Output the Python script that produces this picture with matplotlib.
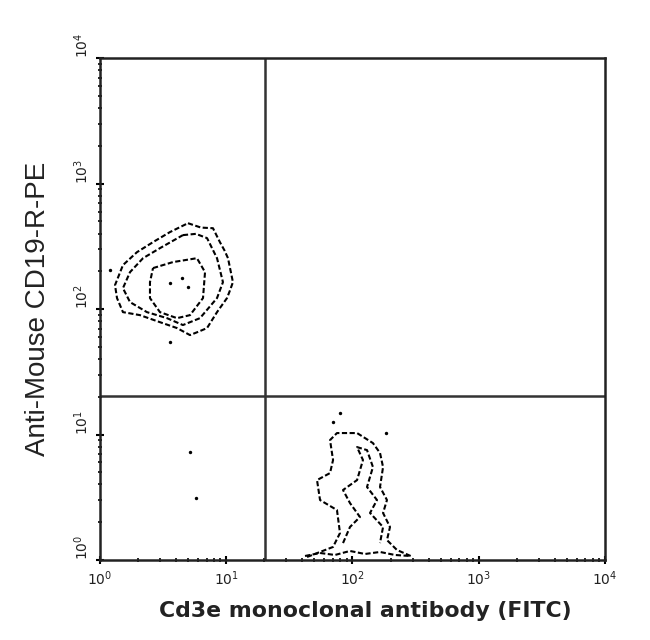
import numpy as np
import matplotlib.pyplot as plt
from matplotlib.ticker import LogLocator, FixedLocator

# axis setup (log decades)
decades = [0, 1, 2, 3, 4]
tick_labels = ["$10^{0}$", "$10^{1}$", "$10^{2}$", "$10^{3}$", "$10^{4}$"]
gate_x = 20.3
gate_y = 20.3

# contours, stored as log10 values
b_outer_x = [0.697, 0.800, 0.895, 0.950, 0.985, 1.014, 1.053, 1.030, 1.006, 0.927, 0.848, 0.780,
             0.713, 0.610, 0.475, 0.317, 0.182, 0.135, 0.119, 0.182, 0.293, 0.420, 0.554, 0.697]
b_outer_y = [2.685, 2.650, 2.645, 2.534, 2.470, 2.406, 2.215, 2.150, 2.088, 1.976, 1.849, 1.820,
             1.793, 1.849, 1.896, 1.952, 1.976, 2.088, 2.191, 2.351, 2.454, 2.534, 2.614, 2.685]
b_mid_x = [0.657, 0.760, 0.848, 0.927, 0.974, 0.927, 0.792, 0.657, 0.531, 0.372, 0.238,
           0.182, 0.238, 0.341, 0.475, 0.657]
b_mid_y = [2.590, 2.600, 2.566, 2.406, 2.215, 2.088, 1.928, 1.873, 1.928, 1.976, 2.056,
           2.167, 2.295, 2.406, 2.486, 2.590]
b_in_x = [0.420, 0.578, 0.768, 0.832, 0.816, 0.713, 0.610, 0.475, 0.396, 0.396, 0.420]
b_in_y = [2.327, 2.375, 2.406, 2.295, 2.088, 1.952, 1.928, 1.976, 2.088, 2.215, 2.327]

t_outer_x = [1.640, 1.846, 1.901, 1.877, 1.743, 1.719, 1.822, 1.846, 1.822, 1.877, 2.036,
             2.162, 2.218, 2.242, 2.218, 2.273, 2.242, 2.297, 2.273, 2.352, 2.479]
t_outer_y = [0.024, 0.104, 0.215, 0.398, 0.478, 0.637, 0.693, 0.797, 0.956, 1.012, 1.012,
             0.932, 0.853, 0.741, 0.582, 0.478, 0.375, 0.263, 0.159, 0.080, 0.024]
t_in_x = [1.925, 1.980, 2.059, 1.980, 1.925, 2.036, 2.083, 2.036, 2.115, 2.162, 2.115,
          2.194, 2.139, 2.242, 2.218]
t_in_y = [0.135, 0.263, 0.343, 0.454, 0.558, 0.637, 0.797, 0.900, 0.876, 0.741, 0.582,
          0.478, 0.375, 0.263, 0.135]
t_base_x = [1.624, 1.743, 1.861, 1.980, 2.099, 2.218, 2.337, 2.455]
t_base_y = [0.032, 0.056, 0.040, 0.072, 0.048, 0.064, 0.040, 0.032]

# single events
dots_x = [1.901, 1.846, 2.265, 0.713, 0.760, 0.554, 0.079, 0.650, 0.697, 0.554]
dots_y = [1.171, 1.100, 1.012, 0.861, 0.494, 1.737, 2.311, 2.247, 2.175, 2.207]

fig = plt.figure(figsize=(6.5, 6.4), dpi=100)
ax = fig.add_axes([0.1538, 0.125, 0.777, 0.784])
ax.set_xscale("log")
ax.set_yscale("log")
ax.set_xlim(1, 1e4)
ax.set_ylim(1, 1e4)

dash = (0, (2.5, 1.2))
for xs, ys in [(b_outer_x, b_outer_y), (b_mid_x, b_mid_y), (b_in_x, b_in_y),
               (t_outer_x, t_outer_y), (t_in_x, t_in_y), (t_base_x, t_base_y)]:
    ax.plot(10 ** np.array(xs), 10 ** np.array(ys), color="black", lw=1.5, ls=dash)
ax.scatter(10 ** np.array(dots_x), 10 ** np.array(dots_y), s=6, color="black", lw=0)

ax.axvline(gate_x, color="#333333", lw=1.8)
ax.axhline(gate_y, color="#333333", lw=1.8)

for s in ax.spines.values():
    s.set_linewidth(1.8)
    s.set_color("#222222")

ax.xaxis.set_major_locator(FixedLocator([10 ** d for d in decades]))
ax.yaxis.set_major_locator(FixedLocator([10 ** d for d in decades]))
ax.xaxis.set_minor_locator(LogLocator(base=10, subs=np.arange(2, 10), numticks=20))
ax.yaxis.set_minor_locator(LogLocator(base=10, subs=np.arange(2, 10), numticks=20))
ax.set_xticklabels(tick_labels, fontsize=10, color="#222222")
ax.set_yticklabels(tick_labels, fontsize=10, color="#222222", rotation=90, va="bottom")
ax.tick_params(which="major", direction="inout", length=6, width=1.5)
ax.tick_params(which="minor", direction="inout", length=3, width=1.2)

ax.set_xlabel("Cd3e monoclonal antibody (FITC)", fontsize=15.8, fontweight="bold",
              color="#222222", va="top")
ax.xaxis.set_label_coords(0.525, -0.082)
ax.set_ylabel("Anti-Mouse CD19-R-PE", fontsize=20, family="Liberation Sans",
              color="#222222")
ax.yaxis.set_label_coords(-0.097, 0.5)

plt.savefig("out.png")
